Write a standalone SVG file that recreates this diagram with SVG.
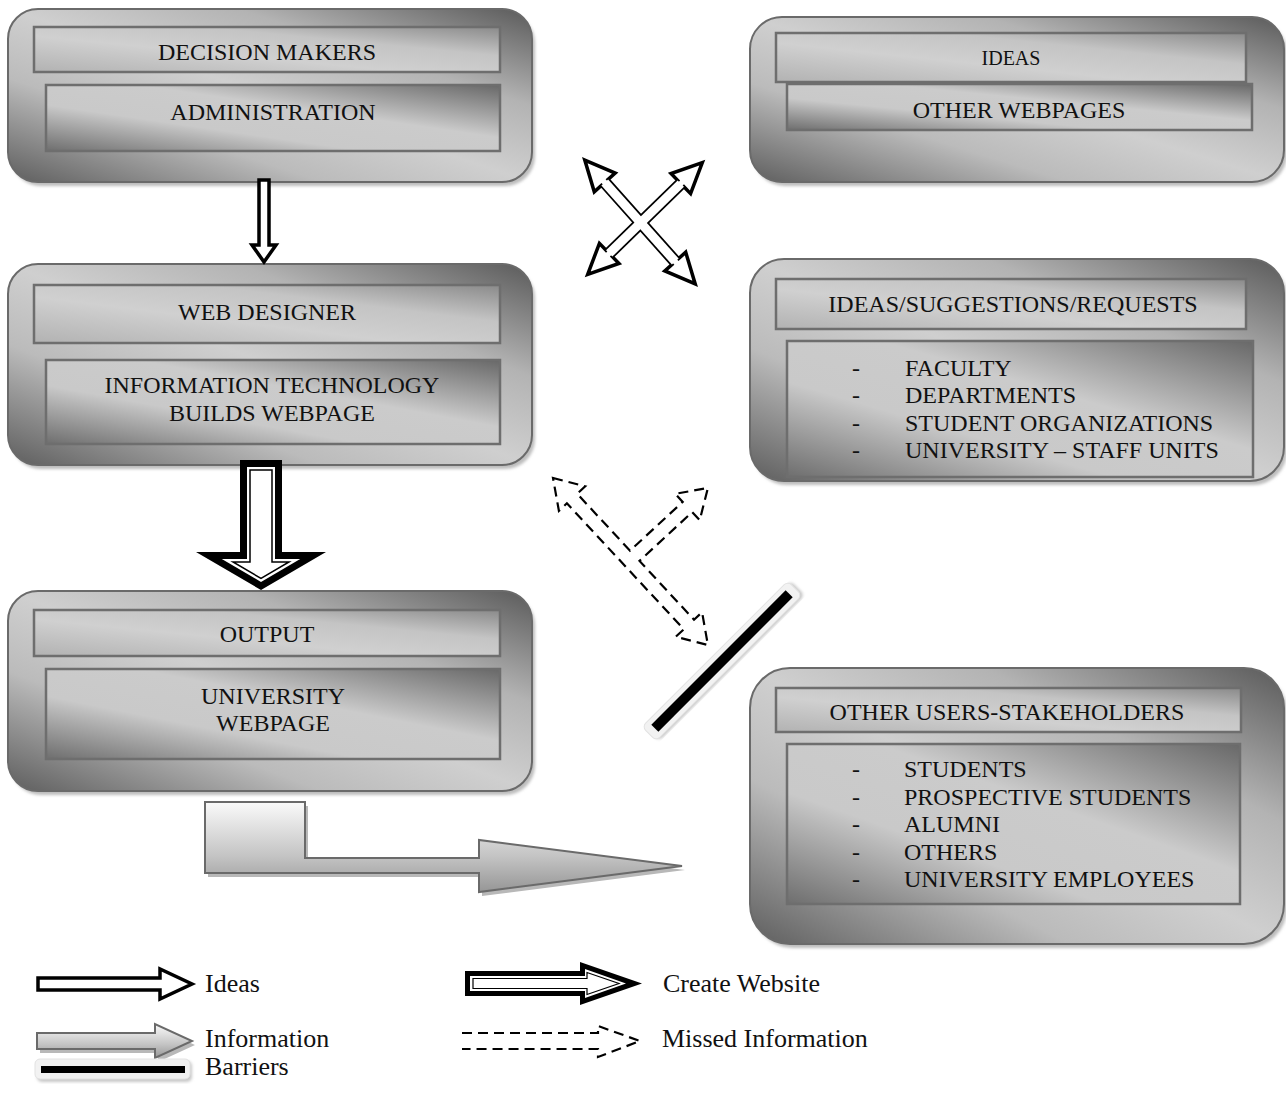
<svg xmlns="http://www.w3.org/2000/svg" width="1286" height="1109" viewBox="0 0 1286 1109">
<defs>
<linearGradient id="gOuter" x1="0" y1="1" x2="1" y2="0">
<stop offset="0" stop-color="#5e5e5e"/><stop offset="0.3" stop-color="#bbbbbb"/><stop offset="0.5" stop-color="#cfcfcf"/><stop offset="0.72" stop-color="#b3b3b3"/><stop offset="1" stop-color="#5a5a5a"/>
</linearGradient>
<linearGradient id="gHdr" x1="0" y1="1" x2="1" y2="0">
<stop offset="0" stop-color="#b2b2b2"/><stop offset="0.4" stop-color="#d0d0d0"/><stop offset="0.68" stop-color="#c4c4c4"/><stop offset="1" stop-color="#8a8a8a"/>
</linearGradient>
<linearGradient id="gSub" x1="0" y1="1" x2="1" y2="0">
<stop offset="0" stop-color="#6e6e6e"/><stop offset="0.35" stop-color="#c9c9c9"/><stop offset="0.6" stop-color="#cbcbcb"/><stop offset="1" stop-color="#686868"/>
</linearGradient>
<linearGradient id="gInfo" x1="0" y1="0" x2="0" y2="1">
<stop offset="0" stop-color="#fafafa"/><stop offset="0.6" stop-color="#c4c4c4"/><stop offset="1" stop-color="#969696"/>
</linearGradient>
<filter id="blur" x="-5%" y="-5%" width="110%" height="110%"><feGaussianBlur stdDeviation="1.5"/></filter>
</defs>
<style>
.outer{fill:url(#gOuter);stroke:#6a6a6a;stroke-width:2}
.shadow{fill:#bdbdbd;filter:url(#blur)}
.hdr{fill:url(#gHdr);stroke:#6e6e6e;stroke-width:2.5}
.sub{fill:url(#gSub);stroke:#6e6e6e;stroke-width:2.5}
.t{font-family:"Liberation Serif","Times New Roman",serif;font-size:24px;fill:#111}
.c{text-anchor:middle}
.lg{font-family:"Liberation Serif","Times New Roman",serif;font-size:26px;fill:#111}
.idea{fill:#fff;stroke:#000;stroke-width:3.5;stroke-linejoin:miter;stroke-miterlimit:4}
.ideafill{fill:#fff;stroke:none}
.dash{fill:none;stroke:#000;stroke-width:2.2;stroke-dasharray:10 6}
.info{fill:url(#gInfo);stroke:#6a6a6a;stroke-width:2}
.infosh{fill:#b8b8b8}
</style>
<rect width="1286" height="1109" fill="#fff"/>

<g id="node-decision-makers">
<rect class="shadow" x="11" y="13" width="524" height="173" rx="30"/>
<rect class="outer" x="8" y="9" width="524" height="173" rx="30"/>
<rect class="hdr" x="34" y="27" width="466" height="45"/>
<rect class="sub" x="46" y="85" width="454" height="66"/>
<text class="t c" x="267" y="60">DECISION MAKERS</text>
<text class="t c" x="273" y="120">ADMINISTRATION</text>
</g>

<g id="node-web-designer">
<rect class="shadow" x="11" y="268" width="524" height="201" rx="30"/>
<rect class="outer" x="8" y="264" width="524" height="201" rx="30"/>
<rect class="hdr" x="34" y="285" width="466" height="58"/>
<rect class="sub" x="46" y="360" width="454" height="84"/>
<text class="t c" x="267" y="320">WEB DESIGNER</text>
<text class="t c" x="272" y="393">INFORMATION TECHNOLOGY</text>
<text class="t c" x="272" y="421">BUILDS WEBPAGE</text>
</g>

<g id="node-output">
<rect class="shadow" x="11" y="595" width="524" height="200" rx="30"/>
<rect class="outer" x="8" y="591" width="524" height="200" rx="30"/>
<rect class="hdr" x="34" y="610" width="466" height="46"/>
<rect class="sub" x="46" y="669" width="454" height="90"/>
<text class="t c" x="267" y="642">OUTPUT</text>
<text class="t c" x="273" y="704">UNIVERSITY</text>
<text class="t c" x="273" y="731">WEBPAGE</text>
</g>

<g id="node-ideas">
<rect class="shadow" x="753" y="21" width="534" height="165" rx="32"/>
<rect class="outer" x="750" y="17" width="534" height="165" rx="32"/>
<rect class="hdr" x="776" y="33" width="470" height="49"/>
<rect class="sub" x="787" y="84" width="465" height="46"/>
<text class="t c" x="1011" y="65" style="font-size:20px">IDEAS</text>
<text class="t c" x="1019" y="118">OTHER WEBPAGES</text>
</g>

<g id="node-suggestions">
<rect class="shadow" x="753" y="263" width="534" height="222" rx="34"/>
<rect class="outer" x="750" y="259" width="534" height="222" rx="34"/>
<rect class="hdr" x="776" y="279" width="470" height="50"/>
<rect class="sub" x="787" y="341" width="466" height="136"/>
<text class="t c" x="1013" y="312">IDEAS/SUGGESTIONS/REQUESTS</text>
<text class="t" x="852" y="376">-</text><text class="t" x="905" y="376">FACULTY</text>
<text class="t" x="852" y="403">-</text><text class="t" x="905" y="403">DEPARTMENTS</text>
<text class="t" x="852" y="431">-</text><text class="t" x="905" y="431">STUDENT ORGANIZATIONS</text>
<text class="t" x="852" y="458">-</text><text class="t" x="905" y="458">UNIVERSITY – STAFF UNITS</text>
</g>

<g id="node-other-users">
<rect class="shadow" x="753" y="672" width="534" height="276" rx="40"/>
<rect class="outer" x="750" y="668" width="534" height="276" rx="40"/>
<rect class="hdr" x="776" y="688" width="465" height="44"/>
<rect class="sub" x="787" y="744" width="453" height="160"/>
<text class="t c" x="1007" y="720">OTHER USERS-STAKEHOLDERS</text>
<text class="t" x="852" y="777">-</text><text class="t" x="904" y="777">STUDENTS</text>
<text class="t" x="852" y="805">-</text><text class="t" x="904" y="805">PROSPECTIVE STUDENTS</text>
<text class="t" x="852" y="832">-</text><text class="t" x="904" y="832">ALUMNI</text>
<text class="t" x="852" y="860">-</text><text class="t" x="904" y="860">OTHERS</text>
<text class="t" x="852" y="887">-</text><text class="t" x="904" y="887">UNIVERSITY EMPLOYEES</text>
</g>

<g id="connectors">
<polygon class="idea" points="259,180 269,180 269,245 276,245 264,262 252,245 259,245"/>
<g id="create-arrow">
<polygon fill="#000" points="240,460 282,460 282,552 326,552 261,590 196,552 240,552"/>
<polygon fill="#fff" points="247,467 275,467 275,559 300.2,559 261,581.9 221.8,559 247,559"/>
<polygon fill="#fff" stroke="#000" stroke-width="1.5" points="250,470 272,470 272,562 289,562 261,578.4 233,562 250,562"/>
</g>
<g id="cross-arrows">
<polygon class="idea" transform="translate(645,218.5) rotate(-44.26)" points="-80,0 -50,-14 -50,-4.5 50,-4.5 50,-14 80,0 50,14 50,4.5 -50,4.5 -50,14"/>
<polygon class="idea" transform="translate(640,222) rotate(48.3)" points="-83,0 -53,-14 -53,-4.5 53,-4.5 53,-14 83,0 53,14 53,4.5 -53,4.5 -53,14"/>
<polygon class="ideafill" transform="translate(645,218.5) rotate(-44.26)" points="-50,-4.5 50,-4.5 50,4.5 -50,4.5"/>
<polygon class="ideafill" transform="translate(640,222) rotate(48.3)" points="-53,-4.5 53,-4.5 53,4.5 -53,4.5"/>
</g>
<path class="dash" d="M553,478 L585.2,486.3 L577.2,493.8 L630,550.7 L682.7,501.9 L675.2,493.8 L707.9,488 L699.7,520.2 L692.2,512.1 L639.5,560.9 L694,619.7 L702.1,612.3 L707.9,645 L675.7,636.7 L683.8,629.3 L566.9,503.3 L558.9,510.8 Z"/>
<g id="barrier" transform="translate(722,661) rotate(-45)">
<rect x="-101" y="-8" width="206" height="20" rx="5" fill="#c4c4c4" filter="url(#blur)"/>
<rect x="-103" y="-10" width="206" height="20" rx="5" fill="#f2f2f2" stroke="#e2e2e2" stroke-width="1"/>
<rect x="-95" y="-5" width="190" height="10" fill="#000"/>
</g>
<g id="info-arrow">
<polygon class="infosh" transform="translate(3,4)" points="205,802 305,802 305,858 479,858 479,840 682,866 479,892 479,873 205,873"/>
<polygon class="info" points="205,802 305,802 305,858 479,858 479,840 682,866 479,892 479,873 205,873"/>
</g>
</g>

<g id="legend">
<polygon class="idea" points="38,978 160,978 160,969 192,984 160,999 160,990 38,990"/>
<text class="lg" x="205" y="992">Ideas</text>

<polygon fill="#000" points="465,971 580,971 580,962 642,983.5 580,1005 580,996 465,996"/>
<polygon fill="#fff" points="470,976 585,976 585,969 626,983.5 585,998 585,991 470,991"/>
<polygon fill="#fff" stroke="#000" stroke-width="1.2" points="473,978.5 587,978.5 587,972.5 619,983.5 587,994.5 587,988.5 473,988.5"/>
<text class="lg" x="663" y="992">Create Website</text>

<polygon class="infosh" transform="translate(3,4)" points="37,1033 155,1033 155,1024 192,1041 155,1058 155,1049 37,1049"/>
<polygon class="info" points="37,1033 155,1033 155,1024 192,1041 155,1058 155,1049 37,1049"/>
<text class="lg" x="205" y="1047">Information</text>

<path class="dash" d="M462,1033 L598,1033 L598,1026 L640,1041 L598,1057 L598,1049 L462,1049"/>
<text class="lg" x="662" y="1047">Missed Information</text>

<rect x="37" y="1061" width="155" height="21" rx="5" fill="#c8c8c8" filter="url(#blur)"/>
<rect x="35" y="1059" width="155" height="20" rx="5" fill="#f2f2f2" stroke="#e2e2e2"/>
<rect x="41" y="1066" width="144" height="7" fill="#000"/>
<text class="lg" x="205" y="1075">Barriers</text>
</g>
</svg>
